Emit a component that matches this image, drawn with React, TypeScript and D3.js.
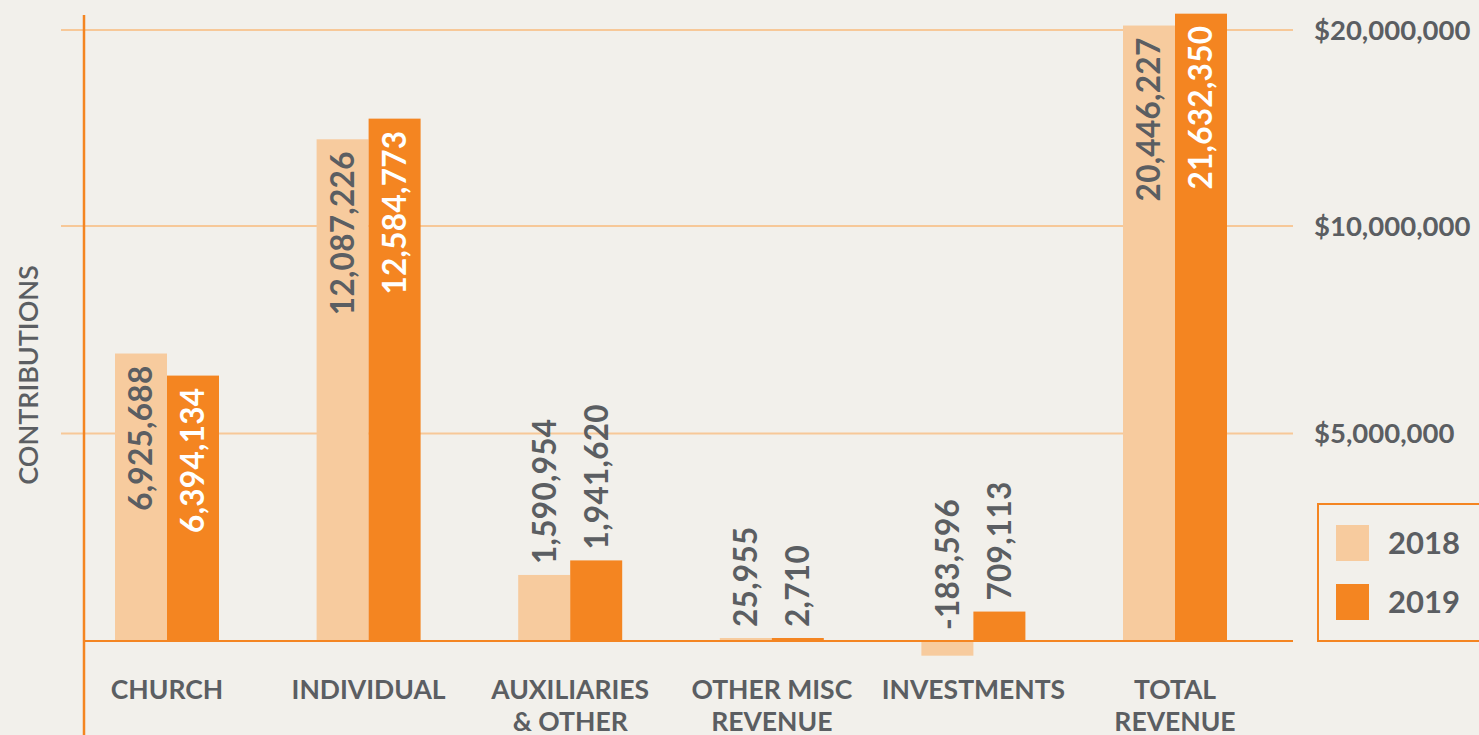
import React from "react";
import * as d3 from "d3";

const categories = [["CHURCH"], ["INDIVIDUAL"], ["AUXILIARIES", "& OTHER"], ["OTHER MISC", "REVENUE"], ["INVESTMENTS"], ["TOTAL", "REVENUE"]];
const values2018 = [6925688, 12087226, 1590954, 25955, -183596, 20446227];
const values2019 = [6394134, 12584773, 1941620, 2710, 709113, 21632350];
const series = ["2018", "2019"];
const tickValues = [5000000, 10000000, 20000000];
const tickLabels = ["$5,000,000", "$10,000,000", "$20,000,000"];

const W = 1479;
const H = 735;
const BG = "#f2f0eb";
const C18 = "#f7cb9e";
const C19 = "#f48521";
const GRID = "#f7c898";
const TEXT = "#5b5e62";
const FONT = "Lato, 'Open Sans', sans-serif";

const locale = d3.formatLocale({ decimal: ".", thousands: ",", grouping: [3], currency: ["$", ""], minus: "-" });
const fmt = locale.format(",");

export default function App() {
  // the reference uses a compressed (piecewise) value axis
  const y = d3
    .scaleLinear()
    .domain([-200000, 0, 12600000, 20000000, 22000000])
    .range([657, 641, 118, 30, 10]);
  const x = d3
    .scalePoint<number>()
    .domain(d3.range(categories.length))
    .range([167, 1175]);
  const bw = 52;
  const baseY = y(0);

  const bars: any[] = [];
  const labels: any[] = [];
  [values2018, values2019].forEach((vals, si) => {
    vals.forEach((v, i) => {
      const cx = x(i)!;
      const x0 = si === 0 ? cx - bw : cx;
      let top = Math.min(y(v), baseY);
      let bottom = Math.max(y(v), baseY);
      if (bottom - top < 3) {
        top = baseY - 3;
        bottom = baseY;
      }
      bars.push(
        <rect key={`b${si}-${i}`} x={x0} y={top} width={bw} height={bottom - top} fill={si === 0 ? C18 : C19} />
      );
      const inside = v > 5000000;
      const lx = x0 + bw / 2;
      const ly = inside ? y(v) + 12 : (v < 0 ? baseY : top) - 11;
      labels.push(
        <text
          key={`l${si}-${i}`}
          transform={`translate(${lx},${ly}) rotate(-90)`}
          textAnchor={inside ? "end" : "start"}
          dy="0.36em"
          fontSize={31.5}
          fontWeight={700}
          letterSpacing={0.3}
          fill={inside && si === 1 ? "#ffffff" : TEXT}
        >
          {fmt(v)}
        </text>
      );
    });
  });

  return (
    <svg width={W} height={H} style={{ position: "absolute", left: 0, top: 0, background: BG, fontFamily: FONT }}>
      <rect x={0} y={0} width={W} height={H} fill={BG} />
      {tickValues.map((t, i) => (
        <g key={`t${i}`}>
          <line x1={61} x2={1293} y1={y(t)} y2={y(t)} stroke={GRID} strokeWidth={2} />
          <text x={1314} y={y(t)} dy="0.36em" fontSize={27.5} fontWeight={700} fill={TEXT}>
            {tickLabels[i]}
          </text>
        </g>
      ))}
      {bars}
      <line x1={84} x2={1293} y1={baseY} y2={baseY} stroke={C19} strokeWidth={2} />
      <line x1={84} x2={84} y1={15} y2={H} stroke={C19} strokeWidth={2.5} />
      {labels}
      {categories.map((lines, i) => (
        <text key={`c${i}`} x={x(i)} y={699} textAnchor="middle" fontSize={26.5} fontWeight={700} fill={TEXT}>
          {lines.map((ln, j) => (
            <tspan key={j} x={x(i)} dy={j === 0 ? 0 : 32}>
              {ln}
            </tspan>
          ))}
        </text>
      ))}
      <text transform={`translate(28,375) rotate(-90)`} textAnchor="middle" dy="0.36em" fontSize={27} fontWeight={600} fill={TEXT}>
        CONTRIBUTIONS
      </text>
      <rect x={1318} y={504} width={170} height={137} fill="none" stroke={C19} strokeWidth={2} />
      {series.map((s, i) => (
        <g key={s}>
          <rect x={1336} y={525 + i * 59} width={33} height={36} fill={i === 0 ? C18 : C19} />
          <text x={1388} y={543 + i * 59} dy="0.36em" fontSize={31} fontWeight={700} fill={TEXT}>
            {s}
          </text>
        </g>
      ))}
    </svg>
  );
}
